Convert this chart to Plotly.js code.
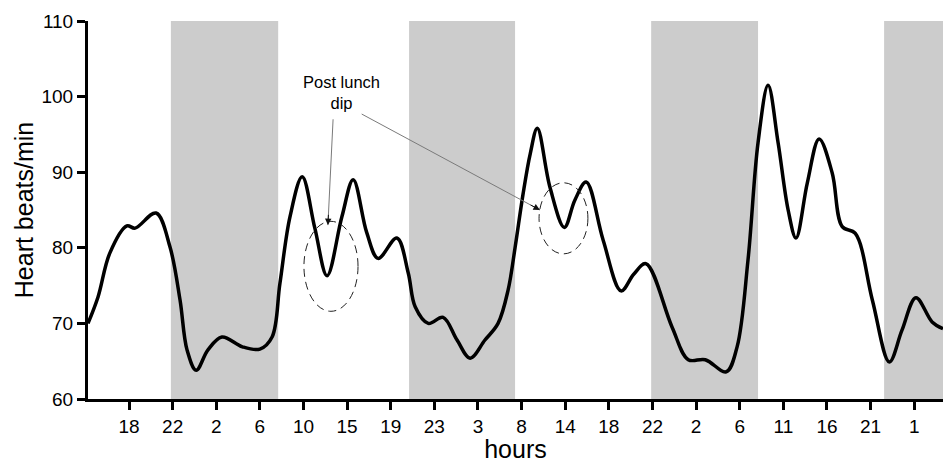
<!DOCTYPE html>
<html>
<head>
<meta charset="utf-8">
<script src="https://cdn.plot.ly/plotly-3.0.1.min.js"></script>
<style>
  html, body { margin: 0; padding: 0; background: #fff; }
  #chart { width: 943px; height: 463px; }
</style>
</head>
<body>
<div id="chart"></div>
<script>
// Tick positions along the recording and the clock hour shown at each one
const tickPos = [1, 2, 3, 4, 5, 6, 7, 8, 9, 10, 11, 12, 13, 14, 15, 16, 17, 18, 19];
const hourLabels = ['18', '22', '2', '6', '10', '15', '19', '23', '3', '8', '14', '18', '22', '2', '6', '11', '16', '21', '1'];

// Heart rate trace (position along the time axis, beats per minute)
const timePos = [0.06, 0.29, 0.56, 0.95, 1.14, 1.62, 1.94, 2.17, 2.33, 2.54,
                 2.81, 3.13, 3.6, 4.00, 4.28, 4.46, 4.69, 4.97, 5.26, 5.54,
                 5.88, 6.14, 6.45, 6.71, 7.14, 7.40, 7.56, 7.86, 8.20, 8.52,
                 8.82, 9.16, 9.46, 9.69, 9.85, 10.03, 10.2, 10.36, 10.65, 10.98,
                 11.22, 11.48, 11.87, 12.28, 12.57, 12.85, 13.45, 13.82, 14.21, 14.69,
                 14.94, 15.19, 15.42, 15.65, 15.88, 16.11, 16.29, 16.55, 16.82, 17.12,
                 17.35, 17.65, 18.04, 18.43, 18.72, 19.04, 19.41, 19.66];
const bpm = [70.0, 73.5, 79.3, 82.9, 82.6, 84.6, 80.1, 73.1, 66.5, 63.8,
             66.5, 68.2, 66.9, 66.6, 68.2, 75.3, 84.1, 89.4, 82.6, 76.3,
             84.1, 89.0, 82.0, 78.6, 81.3, 76.7, 72.2, 70.0, 70.8, 67.8,
             65.4, 67.8, 70.0, 74.4, 80.0, 87.0, 92.5, 95.8, 88.0, 82.7,
             86.3, 88.7, 81.0, 74.3, 76.5, 77.9, 69.5, 65.2, 65.2, 63.6,
             66.9, 78.4, 93.9, 101.5, 93.9, 85.0, 81.3, 88.6, 94.4, 89.9,
             82.8, 81.9, 73.1, 64.9, 69.1, 73.4, 70.2, 69.3];

// Night periods (shaded)
const nightStart = [1.96, 7.42, 12.97, 18.31];
const nightEnd = [4.42, 9.85, 15.42, 19.66];

// Post-lunch dips: circled regions
const dipX0 = [5.01, 10.40];
const dipX1 = [6.25, 11.52];
const dipY0 = [71.6, 79.2];
const dipY1 = [83.5, 88.6];

// Callout arrows: from the label towards each dip
const arrowTailX = [5.68, 6.30];
const arrowTailY = [97.2, 97.8];
const arrowTipX = [5.56, 10.42];
const arrowTipY = [83.0, 85.0];
const headFrac = [0.11, 0.06];

const FONT = 'Liberation Sans, Arial, Helvetica, sans-serif';
const xMin = 0.06, xMax = 19.66, yMin = 60, yMax = 110;

const shapes = [];
nightStart.forEach((s, i) => {
  shapes.push({
    type: 'rect', layer: 'below', xref: 'x', yref: 'y',
    x0: s, x1: nightEnd[i], y0: yMin, y1: yMax,
    fillcolor: '#cccccc', line: { width: 0 }
  });
});
dipX0.forEach((x0, i) => {
  shapes.push({
    type: 'circle', xref: 'x', yref: 'y',
    x0: x0, x1: dipX1[i], y0: dipY0[i], y1: dipY1[i],
    line: { color: '#222', width: 1, dash: '8px,5px' }
  });
});

const annotations = [];
arrowTipX.forEach((tx, i) => {
  const ty = arrowTipY[i];
  // thin grey shaft
  annotations.push({
    xref: 'x', yref: 'y', axref: 'x', ayref: 'y', text: '', showarrow: true,
    x: tx, y: ty, ax: arrowTailX[i], ay: arrowTailY[i],
    arrowhead: 0, arrowwidth: 1, arrowcolor: '#7a7a7a', standoff: 0
  });
  // dark arrow head at the tip
  const f = headFrac[i];
  annotations.push({
    xref: 'x', yref: 'y', axref: 'x', ayref: 'y', text: '', showarrow: true,
    x: tx, y: ty,
    ax: tx + (arrowTailX[i] - tx) * f, ay: ty + (arrowTailY[i] - ty) * f,
    arrowhead: 2, arrowsize: 1.3, arrowwidth: 1, arrowcolor: '#111', standoff: 0
  });
});
annotations.push({
  xref: 'x', yref: 'y', x: 5.87, y: 100.6, showarrow: false,
  text: 'Post lunch<br>dip', font: { family: FONT, size: 16.5, color: '#000' }
});

const trace = {
  x: timePos, y: bpm, type: 'scatter', mode: 'lines',
  line: { color: '#000', width: 3.5, shape: 'spline', smoothing: 1 },
  hoverinfo: 'skip'
};

const axisCommon = {
  showline: true, linecolor: '#000', linewidth: 3,
  ticks: 'outside', ticklen: 8, tickwidth: 3, tickcolor: '#000',
  showgrid: false, zeroline: false,
  tickfont: { family: FONT, size: 19, color: '#000' }
};

const layout = {
  width: 943, height: 463,
  margin: { l: 88, r: 0, t: 21, b: 64, pad: 0 },
  paper_bgcolor: '#fff', plot_bgcolor: '#fff',
  showlegend: false,
  font: { family: FONT, color: '#000' },
  xaxis: Object.assign({}, axisCommon, {
    range: [xMin, xMax], tickmode: 'array', tickvals: tickPos, ticktext: hourLabels,
    title: { text: 'hours', font: { family: FONT, size: 25, color: '#000' }, standoff: 0 }
  }),
  yaxis: Object.assign({}, axisCommon, {
    range: [yMin, yMax], tickmode: 'array', tickvals: [60, 70, 80, 90, 100, 110],
    title: { text: 'Heart beats/min', font: { family: FONT, size: 25, color: '#000' }, standoff: 1 }
  }),
  shapes: shapes,
  annotations: annotations
};

Plotly.newPlot('chart', [trace], layout, { staticPlot: true, displayModeBar: false });
</script>
</body>
</html>
